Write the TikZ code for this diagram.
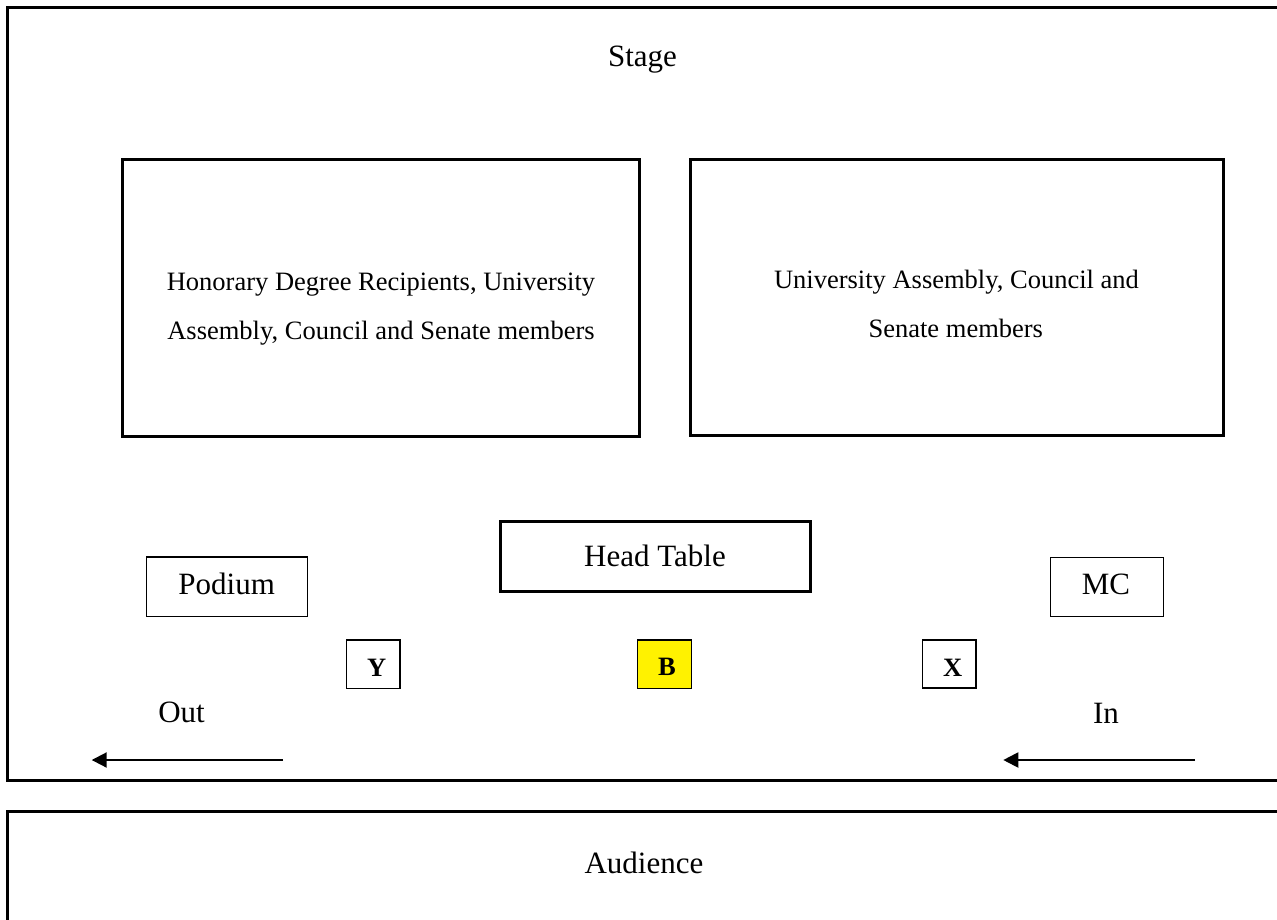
\documentclass[tikz,border=0pt]{standalone}
\usepackage{fontspec}
\setmainfont{Liberation Serif}
\usetikzlibrary{arrows.meta}
\begin{document}
\begin{tikzpicture}[x=1pt,y=-1pt,
  thickbox/.style={draw, line width=3pt, inner sep=0pt},
  thinbox/.style={draw, line width=1.5pt, inner sep=0pt},
  bigtext/.style={font=\fontsize{31}{37}\selectfont, anchor=base, inner sep=0pt},
  midtext/.style={font=\fontsize{26.5}{32}\selectfont, anchor=base, inner sep=0pt},
  lettertext/.style={font=\fontsize{26.5}{32}\selectfont\bfseries, anchor=base, inner sep=0pt},
  flow/.style={line width=2pt, -{Triangle[length=15pt,width=15pt]}}
]
\useasboundingbox (0,0) rectangle (1277,919);
\fill[white] (0,0) rectangle (1277,919);

% outer areas
\draw[line width=3pt] (7.3,7) rectangle (1295,780.7);
\draw[line width=3pt] (7.3,811) rectangle (1295,960);

\node[bigtext] (stage) at (642.5,66.7) {Stage};
\node[bigtext] (audience) at (644,873) {Audience};

% seating blocks
\node[thickbox, minimum width=517pt, minimum height=277pt] (hon) at (380.5,298) {};
\node[midtext] (hon1) at (381,290) {Honorary Degree Recipients, University};
\node[midtext] (hon2) at (381,339.3) {Assembly, Council and Senate members};

\node[thickbox, minimum width=533pt, minimum height=275.5pt] (uni) at (956.5,297.25) {};
\node[midtext] (uni1) at (956.5,288.3) {University Assembly, Council and};
\node[midtext] (uni2) at (955.8,337.3) {Senate members};

% head table, podium, MC
\node[thickbox, minimum width=309.5pt, minimum height=69.5pt] (head) at (655.25,556.25) {};
\node[bigtext] (headt) at (655,566.7) {Head Table};

\node[thinbox, minimum width=161pt, minimum height=59.7pt] (podium) at (227.2,586.85) {};
\node[bigtext] (podiumt) at (226.7,594.3) {Podium};

\node[thinbox, minimum width=113pt, minimum height=59.4pt] (mc) at (1107.2,587) {};
\node[bigtext] (mct) at (1106,594) {MC};

% positions
\node[thinbox, minimum width=53.3pt, minimum height=48.7pt] (ybox) at (373.35,664.35) {};
\node[lettertext] (yt) at (376.7,676) {Y};
\node[thinbox, fill=yellow, minimum width=53.6pt, minimum height=48.7pt] (bbox) at (664.5,664.35) {};
\node[lettertext] (bt) at (667,675.5) {B};
\node[thinbox, minimum width=53.7pt, minimum height=48pt] (xbox) at (949.15,664) {};
\node[lettertext] (xt) at (952.8,676) {X};

% flow
\node[bigtext] (outt) at (181.5,722.7) {Out};
\node[bigtext] (int) at (1106,723) {In};
\coordinate (outA) at (283,760);
\coordinate (outB) at (91.7,760);
\coordinate (inA) at (1195,760);
\coordinate (inB) at (1003.3,760);
\draw[flow] (outA) -- (outB);
\draw[flow] (inA) -- (inB);
\end{tikzpicture}
\end{document}
